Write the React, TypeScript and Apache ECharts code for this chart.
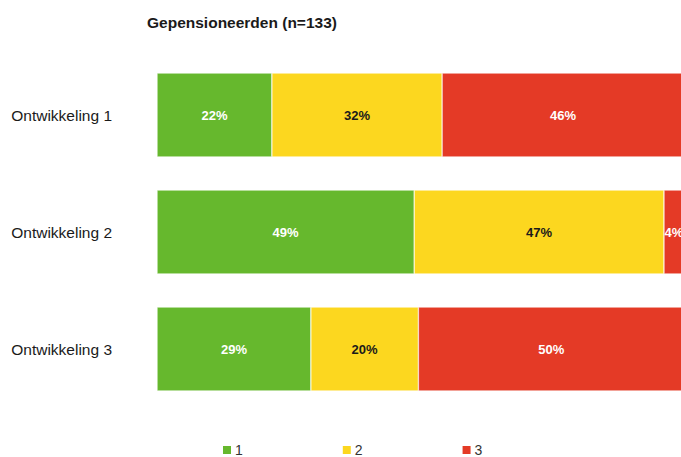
import React, { useEffect, useRef } from "react";
import * as echarts from "echarts";

const title = "Gepensioneerden (n=133)";
const categories = ["Ontwikkeling 1", "Ontwikkeling 2", "Ontwikkeling 3"];
const seriesNames = ["1", "2", "3"];
const values1 = [21.8, 48.8, 29.2];
const values2 = [32.3, 47.4, 20.4];
const values3 = [45.9, 3.8, 50.4];
const colors = ["#66b82d", "#fcd71f", "#e43a26"];
const labelColors = ["#ffffff", "#1a1a1a", "#ffffff"];

export default function App() {
  const ref = useRef<HTMLDivElement>(null);
  useEffect(() => {
    if (!ref.current) return;
    const chart = echarts.init(ref.current, undefined, { renderer: "svg" });
    const data = [values1, values2, values3];
    chart.setOption({
      animation: false,
      backgroundColor: "#ffffff",
      title: {
        text: title,
        left: 147,
        top: 14,
        padding: 0,
        textStyle: {
          fontFamily: "'Liberation Sans', Arial, sans-serif",
          fontWeight: "bold",
          fontSize: 15.5,
          color: "#1a1a1a",
        },
      },
      legend: {
        data: seriesNames,
        left: 221,
        top: 443,
        padding: 0,
        itemWidth: 10,
        itemHeight: 10,
        itemGap: 98,
        icon: "rect",
        textStyle: {
          fontFamily: "'Liberation Sans', Arial, sans-serif",
          fontSize: 14,
          color: "#333333",
          padding: [0, 0, 0, -2],
        },
      },
      grid: { left: 157, right: 16, top: 56.5, height: 351 },
      xAxis: {
        type: "value",
        min: 0,
        max: 100,
        show: false,
      },
      yAxis: {
        type: "category",
        data: categories,
        inverse: true,
        axisLine: { show: false },
        axisTick: { show: false },
        axisLabel: {
          margin: 45,
          fontFamily: "'Liberation Sans', Arial, sans-serif",
          fontSize: 15.5,
          color: "#1a1a1a",
        },
      },
      series: seriesNames.map((name, i) => ({
        name,
        type: "bar",
        stack: "total",
        barWidth: 84,
        data: data[i],
        itemStyle: { color: colors[i], borderColor: "#ffffff", borderWidth: 0.5 },
        label: {
          show: true,
          position: "inside",
          formatter: (p: any) => Math.round(p.value) + "%",
          fontFamily: "'Liberation Sans', Arial, sans-serif",
          fontWeight: "bold",
          fontSize: 13,
          color: labelColors[i],
        },
      })),
    });
    return () => chart.dispose();
  }, []);
  return (
    <div style={{ position: "fixed", left: 0, top: 0, width: 681, height: 457, overflow: "hidden", background: "#fff" }}>
      <div ref={ref} style={{ position: "absolute", left: 0, top: 0, width: 700, height: 457 }} />
    </div>
  );
}
